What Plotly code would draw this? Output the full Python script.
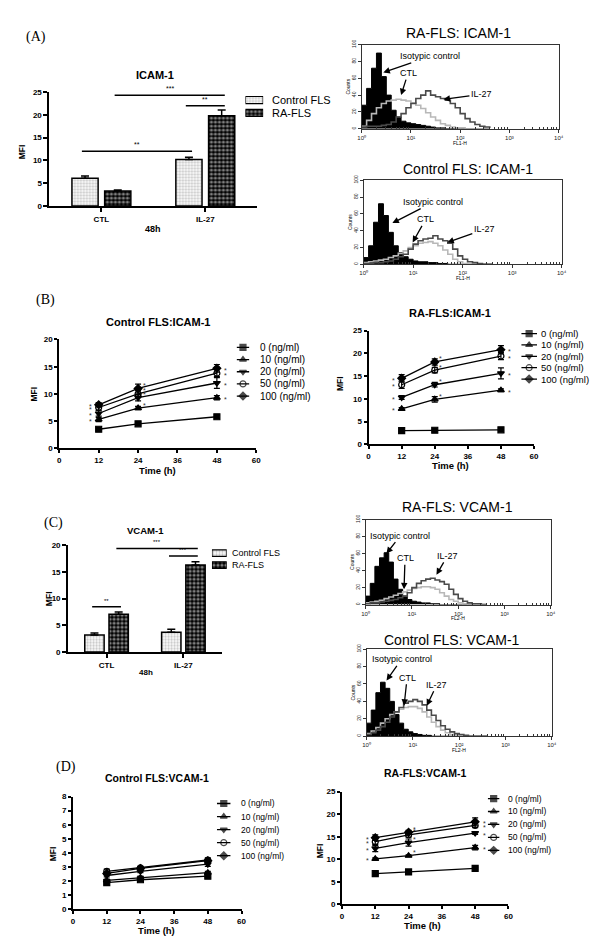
import plotly.graph_objects as go

W, H = 600, 938
FONT = 'Liberation Sans'

# bar charts (48h)
groups = ['CTL', 'IL-27']
bar_names = ['Control FLS', 'RA-FLS']
icam_ctrl = [6.1, 10.2]
icam_ctrl_err = [0.5, 0.5]
icam_ra = [3.3, 19.8]
icam_ra_err = [0.2, 1.3]
vcam_ctrl = [3.2, 3.7]
vcam_ctrl_err = [0.4, 0.6]
vcam_ra = [7.1, 16.3]
vcam_ra_err = [0.4, 0.6]

# time courses
hours = [12, 24, 48]
doses = ['0 (ng/ml)', '10 (ng/ml)', '20 (ng/ml)', '50 (ng/ml)', '100 (ng/ml)']
symbols = ['square', 'triangle-up', 'triangle-down', 'circle-open', 'diamond']
ctrl_icam = [[3.5, 4.5, 5.8], [5.3, 7.4, 9.3], [6.4, 9.3, 12.0], [7.5, 10.0, 13.8], [8.0, 11.0, 14.7]]
ctrl_icam_err = [[0.2, 0.3, 0.3], [0.4, 0.3, 0.4], [0.5, 0.6, 1.0], [0.5, 0.6, 0.6], [0.4, 0.8, 0.7]]
ra_icam = [[3.0, 3.1, 3.2], [7.8, 9.9, 11.9], [10.3, 13.1, 15.6], [13.1, 16.3, 19.4], [14.5, 18.1, 20.8]]
ra_icam_err = [[0.1, 0.1, 0.1], [0.3, 0.6, 0.3], [0.4, 0.5, 1.2], [0.8, 0.6, 0.8], [0.8, 0.7, 0.9]]
ctrl_vcam = [[1.9, 2.1, 2.35], [2.05, 2.25, 2.6], [2.4, 2.7, 3.2], [2.7, 2.95, 3.5], [2.55, 2.9, 3.45]]
ctrl_vcam_err = [[0.1, 0.1, 0.1], [0.1, 0.1, 0.1], [0.1, 0.1, 0.15], [0.15, 0.1, 0.15], [0.1, 0.1, 0.1]]
ra_vcam = [[6.8, 7.2, 8.0], [10.1, 10.8, 12.6], [12.4, 13.7, 15.8], [13.9, 15.4, 17.5], [14.8, 16.0, 18.3]]
ra_vcam_err = [[0.2, 0.3, 0.2], [0.2, 0.2, 0.5], [0.7, 0.8, 0.3], [0.6, 0.5, 0.5], [0.6, 0.4, 0.9]]

# flow cytometry histograms (log10 channel, counts)
log_fl = [0.0, 0.1, 0.2, 0.3, 0.4, 0.5, 0.6, 0.7, 0.8, 0.9, 1.0, 1.1, 1.2, 1.3,
          1.4, 1.5, 1.6, 1.7, 1.8, 1.9, 2.0, 2.1, 2.2, 2.3, 2.4, 2.5, 2.6]
decade_labels = ['10⁰', '10¹', '10²', '10³', '10⁴']
ra_icam_iso = [28, 48, 72, 90, 62, 40, 22, 14, 9, 7, 6, 5, 4, 3, 2, 1, 1, 0, 0, 0, 0, 0, 0, 0, 0, 0, 0]
ra_icam_ctl = [3, 10, 18, 25, 30, 33, 34, 35, 34, 33, 31, 28, 24, 19, 14, 10, 6, 4, 2, 1, 1, 0, 0, 0, 0, 0, 0]
ra_icam_il27 = [2, 3, 3, 3, 4, 5, 8, 14, 18, 25, 30, 36, 40, 45, 40, 38, 36, 34, 30, 25, 18, 12, 8, 5, 3, 2, 1]
ct_icam_iso = [8, 22, 50, 72, 58, 38, 22, 14, 9, 6, 4, 3, 3, 2, 2, 1, 1, 0, 0, 0, 0, 0, 0, 0, 0, 0, 0]
ct_icam_ctl = [2, 3, 4, 5, 6, 8, 10, 13, 16, 20, 22, 25, 26, 27, 25, 22, 17, 12, 6, 3, 1, 0, 0, 0, 0, 0, 0]
ct_icam_il27 = [1, 1, 2, 2, 3, 4, 6, 9, 12, 18, 24, 28, 30, 31, 34, 30, 28, 25, 18, 10, 6, 3, 2, 1, 0, 0, 0]
ra_vcam_iso = [10, 25, 45, 55, 61, 50, 30, 18, 10, 6, 4, 3, 2, 2, 1, 1, 0, 0, 0, 0, 0, 0, 0, 0, 0, 0, 0]
ra_vcam_ctl = [2, 3, 4, 5, 7, 9, 11, 13, 15, 17, 19, 20, 21, 21, 20, 18, 14, 10, 6, 4, 2, 1, 0, 0, 0, 0, 0]
ra_vcam_il27 = [1, 2, 2, 3, 4, 5, 6, 8, 10, 14, 20, 25, 28, 30, 31, 29, 27, 24, 18, 12, 7, 4, 2, 1, 1, 0, 0]
ct_vcam_iso = [15, 30, 50, 62, 55, 40, 25, 15, 8, 5, 3, 2, 1, 1, 0, 0, 0, 0, 0, 0, 0, 0, 0, 0, 0, 0, 0]
ct_vcam_ctl = [3, 6, 10, 15, 20, 25, 28, 31, 33, 34, 34, 32, 28, 22, 16, 11, 7, 4, 2, 1, 0, 0, 0, 0, 0, 0, 0]
ct_vcam_il27 = [2, 4, 7, 11, 16, 22, 28, 33, 38, 40, 42, 40, 36, 30, 24, 18, 12, 8, 5, 3, 2, 1, 0, 0, 0, 0, 0]

fl = [10 ** v for v in log_fl]

fig = go.Figure()
axes = {}
notes = []
shapes = []

BARGAP = 0.37
SLOT = (1 - BARGAP) / 2
patterns = [dict(shape='.', fgcolor='#888888', bgcolor='white', size=3, solidity=0.45),
            dict(shape='.', fgcolor='white', bgcolor='black', size=4, solidity=0.5)]


def sfx(k):
    return '' if k == 1 else str(k)


def domain(box):
    x0, x1, y0, y1 = box
    return [x0 / W, x1 / W], [1 - y1 / H, 1 - y0 / H]


def add_axes(k, box, xa, ya):
    xd, yd = domain(box)
    s = sfx(k)
    axes['xaxis' + s] = dict(domain=xd, anchor='y' + s, **xa)
    axes['yaxis' + s] = dict(domain=yd, anchor='x' + s, **ya)


def label(text, x, y, size, bold=False, family=FONT, angle=0, xanchor='center'):
    notes.append(dict(text=text, x=x / W, y=1 - y / H, xref='paper', yref='paper',
                      showarrow=False, xanchor=xanchor, yanchor='middle', textangle=angle,
                      font=dict(family=family, size=size, color='black',
                                weight='bold' if bold else 'normal')))


def prism(**kw):
    d = dict(showline=True, linecolor='black', linewidth=2, ticks='outside', ticklen=4,
             tickwidth=2, tickcolor='black', showgrid=False, zeroline=False,
             tickfont=dict(family=FONT, size=8, color='black', weight='bold'))
    d.update(kw)
    return d


def bar_chart(k, box, ctrl, ctrl_err, ra, ra_err, ymax, sigs, star_size):
    s = sfx(k)
    for name, vals, errs, pat in zip(bar_names, [ctrl, ra], [ctrl_err, ra_err], patterns):
        fig.add_bar(x=groups, y=vals, name=name, xaxis='x' + s, yaxis='y' + s, showlegend=False,
                    marker=dict(line=dict(color='black', width=1.5), pattern=pat),
                    error_y=dict(type='data', symmetric=False, array=errs,
                                 arrayminus=[0] * len(errs), color='black', thickness=1.5, width=4))
    add_axes(k, box, prism(type='category', range=[-0.5, 1.5]),
             prism(range=[0, ymax], dtick=5))
    for g0, j0, g1, j1, y, txt in sigs:
        xa = g0 + (j0 - 0.5) * SLOT - 0.03
        xb = g1 + (j1 - 0.5) * SLOT + 0.03
        shapes.append(dict(type='line', xref='x' + s, yref='y' + s, x0=xa, x1=xb, y0=y, y1=y,
                           line=dict(color='black', width=1.5)))
        notes.append(dict(text=txt, x=(xa + xb) / 2, y=y, xref='x' + s, yref='y' + s,
                          showarrow=False, yanchor='bottom', yshift=1,
                          font=dict(family=FONT, size=star_size, color='black')))


def bar_key(k, box, text_x, rows, size):
    s = sfx(k)
    fig.add_bar(y=[0, 1], x=[1, 1], base=0, orientation='h', width=0.55,
                xaxis='x' + s, yaxis='y' + s, showlegend=False,
                marker=dict(line=dict(color='black', width=1.2), pattern=dict(
                    shape=[p['shape'] for p in patterns], fgcolor=[p['fgcolor'] for p in patterns],
                    bgcolor=[p['bgcolor'] for p in patterns], size=[p['size'] for p in patterns],
                    solidity=[p['solidity'] for p in patterns])))
    add_axes(k, box, dict(visible=False, range=[0, 1]), dict(visible=False, range=[1.5, -0.5]))
    for name, y in zip(bar_names, rows):
        label(name, text_x, y, size, xanchor='left')


def line_chart(k, box, series, errs, ymax, dtick, stars):
    s = sfx(k)
    for i in range(len(doses)):
        fig.add_scatter(x=hours, y=series[i], mode='lines+markers', xaxis='x' + s, yaxis='y' + s,
                        showlegend=False, line=dict(color='black', width=1.3),
                        marker=dict(symbol=symbols[i], size=6, color='black',
                                    line=dict(color='black', width=1.2)),
                        error_y=dict(type='data', array=errs[i], color='black',
                                     thickness=1.2, width=3))
        if stars and i > 0:
            v = series[i]
            for x, y, dx, dy in [(hours[0], v[0], -8, -2), (hours[1], v[1], 6, 3),
                                 (hours[2], v[2], 9, -2)]:
                notes.append(dict(text='*', x=x, y=y, xref='x' + s, yref='y' + s,
                                  showarrow=False, xshift=dx, yshift=dy,
                                  font=dict(family=FONT, size=7, color='#333333')))
    add_axes(k, box, prism(range=[0, 60], dtick=12, ticklen=3),
             prism(range=[0, ymax], dtick=dtick, ticklen=3))


def line_key(k, x0, x1, y_first, step, text_x, size):
    s = sfx(k)
    for i, sym in enumerate(symbols):
        fig.add_scatter(x=[0, 0.5, 1], y=[i, i, i], mode='lines+markers', xaxis='x' + s,
                        yaxis='y' + s, showlegend=False, line=dict(color='black', width=1.3),
                        marker=dict(symbol=sym, size=[0, 6, 0], color='black',
                                    line=dict(color='black', width=[0, 1.2, 0])))
        label(doses[i], text_x, y_first + i * step, size, xanchor='left')
    add_axes(k, (x0, x1, y_first - step / 2, y_first + 4.5 * step),
             dict(visible=False, range=[0, 1]), dict(visible=False, range=[4.5, -0.5]))


minor_vals = [m * 10 ** e for e in range(4) for m in range(2, 10)]


def histogram(k, box, iso, ctl, il27, channel, arrows):
    s = sfx(k)
    fig.add_scatter(x=fl, y=iso, mode='lines', fill='tozeroy', fillcolor='black',
                    line=dict(color='black', width=1, shape='hv'),
                    xaxis='x' + s, yaxis='y' + s, showlegend=False)
    fig.add_scatter(x=fl, y=ctl, mode='lines', line=dict(color='#b8b8b8', width=1.6, shape='hv'),
                    xaxis='x' + s, yaxis='y' + s, showlegend=False)
    fig.add_scatter(x=fl, y=il27, mode='lines', line=dict(color='#4a4a4a', width=1.6, shape='hv'),
                    xaxis='x' + s, yaxis='y' + s, showlegend=False)
    small = dict(family=FONT, size=6, color='#222222')
    add_axes(k, box,
             dict(type='log', range=[0, 4], showline=True, mirror=True, linecolor='#333333',
                  linewidth=1, showgrid=False, zeroline=False, ticks='outside', ticklen=3,
                  tickcolor='#333333', tickvals=[1, 10, 100, 1000, 10000],
                  ticktext=decade_labels, tickfont=small,
                  minor=dict(ticks='inside', ticklen=2, tickcolor='#333333', tickvals=minor_vals)),
             dict(range=[0, 100], showline=True, mirror=True, linecolor='#333333', linewidth=1,
                  showgrid=False, zeroline=False, ticks='outside', ticklen=3, tickcolor='#333333',
                  tickvals=[0, 20, 40, 60, 80, 100], tickangle=-90,
                  tickfont=dict(family=FONT, size=5, color='#222222')))
    x0, x1, y0, y1 = box
    label('Counts', x0 - 14, (y0 + y1) / 2, 5, angle=-90)
    label(channel, (x0 + x1) / 2, y1 + 14, 5)
    for txt, lx, y, ax, ay in arrows:
        notes.append(dict(text=txt, x=lx, y=y, xref='x' + s, yref='y' + s, showarrow=True,
                          arrowhead=2, arrowsize=1, arrowwidth=1.3, arrowcolor='black',
                          ax=ax, ay=ay, font=dict(family=FONT, size=9, color='black')))


# (A)
bar_chart(1, (38, 249, 80, 195), icam_ctrl, icam_ctrl_err, icam_ra, icam_ra_err, 25,
          [(0, 1, 1, 1, 24.3, '***'), (1, 0, 1, 1, 22.0, '**'), (0, 0, 1, 0, 12.0, '**')], 7)
bar_key(11, (237, 255, 81.5, 107.5), 262, [88, 101], 11)
histogram(2, (355, 555, 32, 117), ra_icam_iso, ra_icam_ctl, ra_icam_il27, 'FL1-H',
          [('Isotypic control', 0.44, 67, 47, -16), ('CTL', 0.8, 40, 7, -22),
           ('IL-27', 1.66, 35, 38, -5)])
histogram(3, (357, 558, 169, 254), ct_icam_iso, ct_icam_ctl, ct_icam_il27, 'FL1-H',
          [('Isotypic control', 0.58, 49, 41, -21), ('CTL', 0.99, 26, 13, -23),
           ('IL-27', 1.69, 26, 37, -13)])

# (B)
line_chart(4, (48, 248, 330, 440), ctrl_icam, ctrl_icam_err, 20, 5, True)
line_key(13, 228, 241, 338, 12.3, 250, 10)
line_chart(5, (362, 530, 321, 436), ra_icam, ra_icam_err, 25, 5, True)
line_key(14, 517, 533, 324, 11.5, 535, 9.5)

# (C)
bar_chart(6, (57, 213, 538, 646), vcam_ctrl, vcam_ctrl_err, vcam_ra, vcam_ra_err, 20,
          [(0, 0, 0, 1, 8.5, '**'), (0, 1, 1, 1, 19.4, '***'), (1, 0, 1, 1, 18.0, '***')], 6)
bar_key(12, (203, 218, 540, 564), 221, [546, 558], 9)
histogram(7, (359, 547, 512, 598), ra_vcam_iso, ra_vcam_ctl, ra_vcam_il27, 'FL2-H',
          [('Isotypic control', 0.45, 60, 14, -18), ('CTL', 0.83, 18, 1, -31),
           ('IL-27', 1.53, 35, 11, -19)])
histogram(8, (360, 548, 643, 731), ct_vcam_iso, ct_vcam_ctl, ct_vcam_il27, 'FL2-H',
          [('Isotypic control', 0.43, 64, 15, -21), ('CTL', 0.81, 35, 3, -28),
           ('IL-27', 1.3, 35, 10, -21)])

# (D)
line_chart(9, (62, 233, 792, 906), ctrl_vcam, ctrl_vcam_err, 8, 1, False)
line_key(15, 208, 222, 799, 13.2, 230, 8.5)
line_chart(10, (335, 504, 787, 901), ra_vcam, ra_vcam_err, 25, 5, True)
line_key(16, 483, 495, 794, 13.1, 502, 8.5)

# titles and axis texts
label('(A)', 24, 24, 14, family='Liberation Serif')
label('(B)', 34, 290, 14, family='Liberation Serif')
label('(C)', 42, 515, 14, family='Liberation Serif')
label('(D)', 55, 762, 14, family='Liberation Serif')

label('ICAM-1', 145, 63, 11, bold=True)
label('RA-FLS: ICAM-1', 453, 20, 14)
label('Control FLS: ICAM-1', 463, 158, 14)
label('Control FLS:ICAM-1', 148, 312, 11, bold=True)
label('RA-FLS:ICAM-1', 445, 303, 11, bold=True)
label('VCAM-1', 136, 523, 9.5, bold=True)
label('RA-FLS: VCAM-1', 452, 499, 14)
label('Control FLS: VCAM-1', 447, 634, 14)
label('Control FLS:VCAM-1', 147, 773, 10.5, bold=True)
label('RA-FLS:VCAM-1', 419, 768, 10.5, bold=True)

for x, y in [(10, 140), (22, 385), (333, 375), (37, 592), (42, 850), (313, 847)]:
    label('MFI', x, y, 8.5, bold=True, angle=-90)
label('48h', 143, 218, 9, bold=True)
label('48h', 136, 667, 8, bold=True)
for x, y in [(148, 462), (445, 457), (147, 927), (417, 922)]:
    label('Time (h)', x, y, 9.5, bold=True)

fig.update_layout(width=W, height=H, margin=dict(l=0, r=0, t=0, b=0),
                  paper_bgcolor='white', plot_bgcolor='rgba(0,0,0,0)',
                  barmode='group', bargap=BARGAP, bargroupgap=0.2,
                  annotations=notes, shapes=shapes, showlegend=False, **axes)

fig.write_html("out.html")
